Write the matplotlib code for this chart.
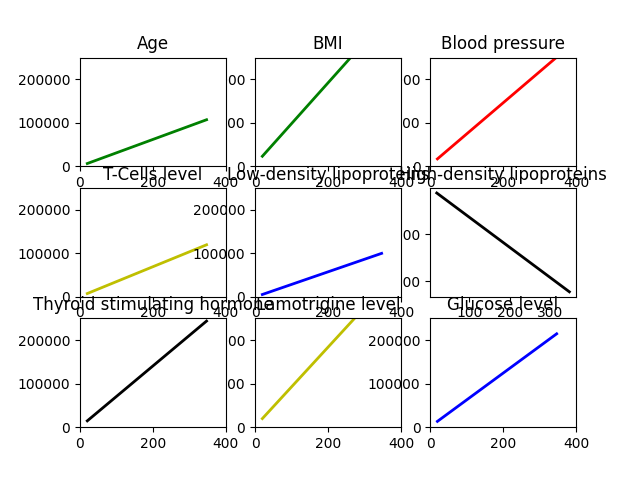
import matplotlib
matplotlib.use("Agg")
import matplotlib.pyplot as plt
import numpy as np

titles = ["Age", "BMI", "Blood pressure",
          "T-Cells level", "Low-density lipoproteins", "High-density lipoproteins",
          "Thyroid stimulating hormone", "Lamotrigine level", "Glucose level"]
colors = ["g", "g", "r", "y", "b", "k", "k", "y", "b"]
x_range = [20, 347]
y_start = [6400, 23100, 17000, 7400, 5200, -12000, 14600, 19800, 13400]
y_end = [107100, 329700, 251000, 119500, 99800, -222500, 244100, 318000, 214800]
fixed_limits = [True, True, True, True, True, False, True, True, True]
draw_rank = [2, 1, 0, 3, 5, 4, 7, 6, 8]

fig, axes = plt.subplots(3, 3, figsize=(6.4, 4.8), dpi=100)
for i, ax in enumerate(axes.flat):
    ax.plot(x_range, [y_start[i], y_end[i]], color=colors[i], linewidth=2)
    ax.set_title(titles[i])
    if fixed_limits[i]:
        ax.set_xlim(0, 400)
        ax.set_ylim(0, 250000)
    ax.set_zorder(draw_rank[i])

fig.savefig("out.png")
